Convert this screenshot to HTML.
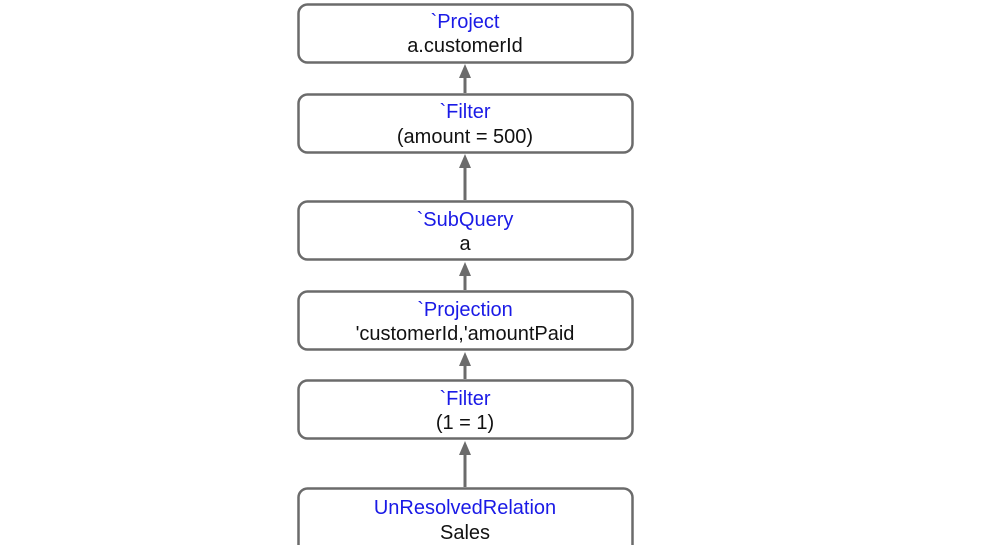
<!DOCTYPE html>
<html><head><meta charset="utf-8"><style>
html,body{margin:0;padding:0;background:#fff;}
svg{display:block;}
text{font-family:"Liberation Sans",Arial,sans-serif;font-size:20px;text-anchor:middle;}
.b{fill:#1a1ae6;}
.k{fill:#111;}
rect{fill:#fff;stroke:#6b6b6b;stroke-width:2.5;}
line{stroke:#6b6b6b;stroke-width:3;}
polygon{fill:#6b6b6b;}
</style></head><body>
<svg width="985" height="545" viewBox="0 0 985 545">
<g>
<rect x="298.5" y="4.5" width="334" height="58" rx="9"/>
<text class="b" x="465" y="28">`Project</text>
<text class="k" x="465" y="52">a.customerId</text>

<rect x="298.5" y="94.5" width="334" height="58" rx="9"/>
<text class="b" x="465" y="118">`Filter</text>
<text class="k" x="465" y="143">(amount = 500)</text>

<rect x="298.5" y="201.5" width="334" height="58" rx="9"/>
<text class="b" x="465" y="226">`SubQuery</text>
<text class="k" x="465" y="250">a</text>

<rect x="298.5" y="291.5" width="334" height="58" rx="9"/>
<text class="b" x="465" y="316">`Projection</text>
<text class="k" x="465" y="340">'customerId,'amountPaid</text>

<rect x="298.5" y="380.5" width="334" height="58" rx="9"/>
<text class="b" x="465" y="405">`Filter</text>
<text class="k" x="465" y="429">(1 = 1)</text>

<rect x="298.5" y="488.5" width="334" height="70" rx="9"/>
<text class="b" x="465" y="514">UnResolvedRelation</text>
<text class="k" x="465" y="539">Sales</text>

<line x1="465" y1="93" x2="465" y2="75"/><polygon points="459,78 471,78 465,64"/>
<line x1="465" y1="200" x2="465" y2="165"/><polygon points="459,168 471,168 465,154"/>
<line x1="465" y1="290" x2="465" y2="273"/><polygon points="459,276 471,276 465,262"/>
<line x1="465" y1="379" x2="465" y2="363"/><polygon points="459,366 471,366 465,352"/>
<line x1="465" y1="487" x2="465" y2="452"/><polygon points="459,455 471,455 465,441"/>
</g>
</svg>
</body></html>
